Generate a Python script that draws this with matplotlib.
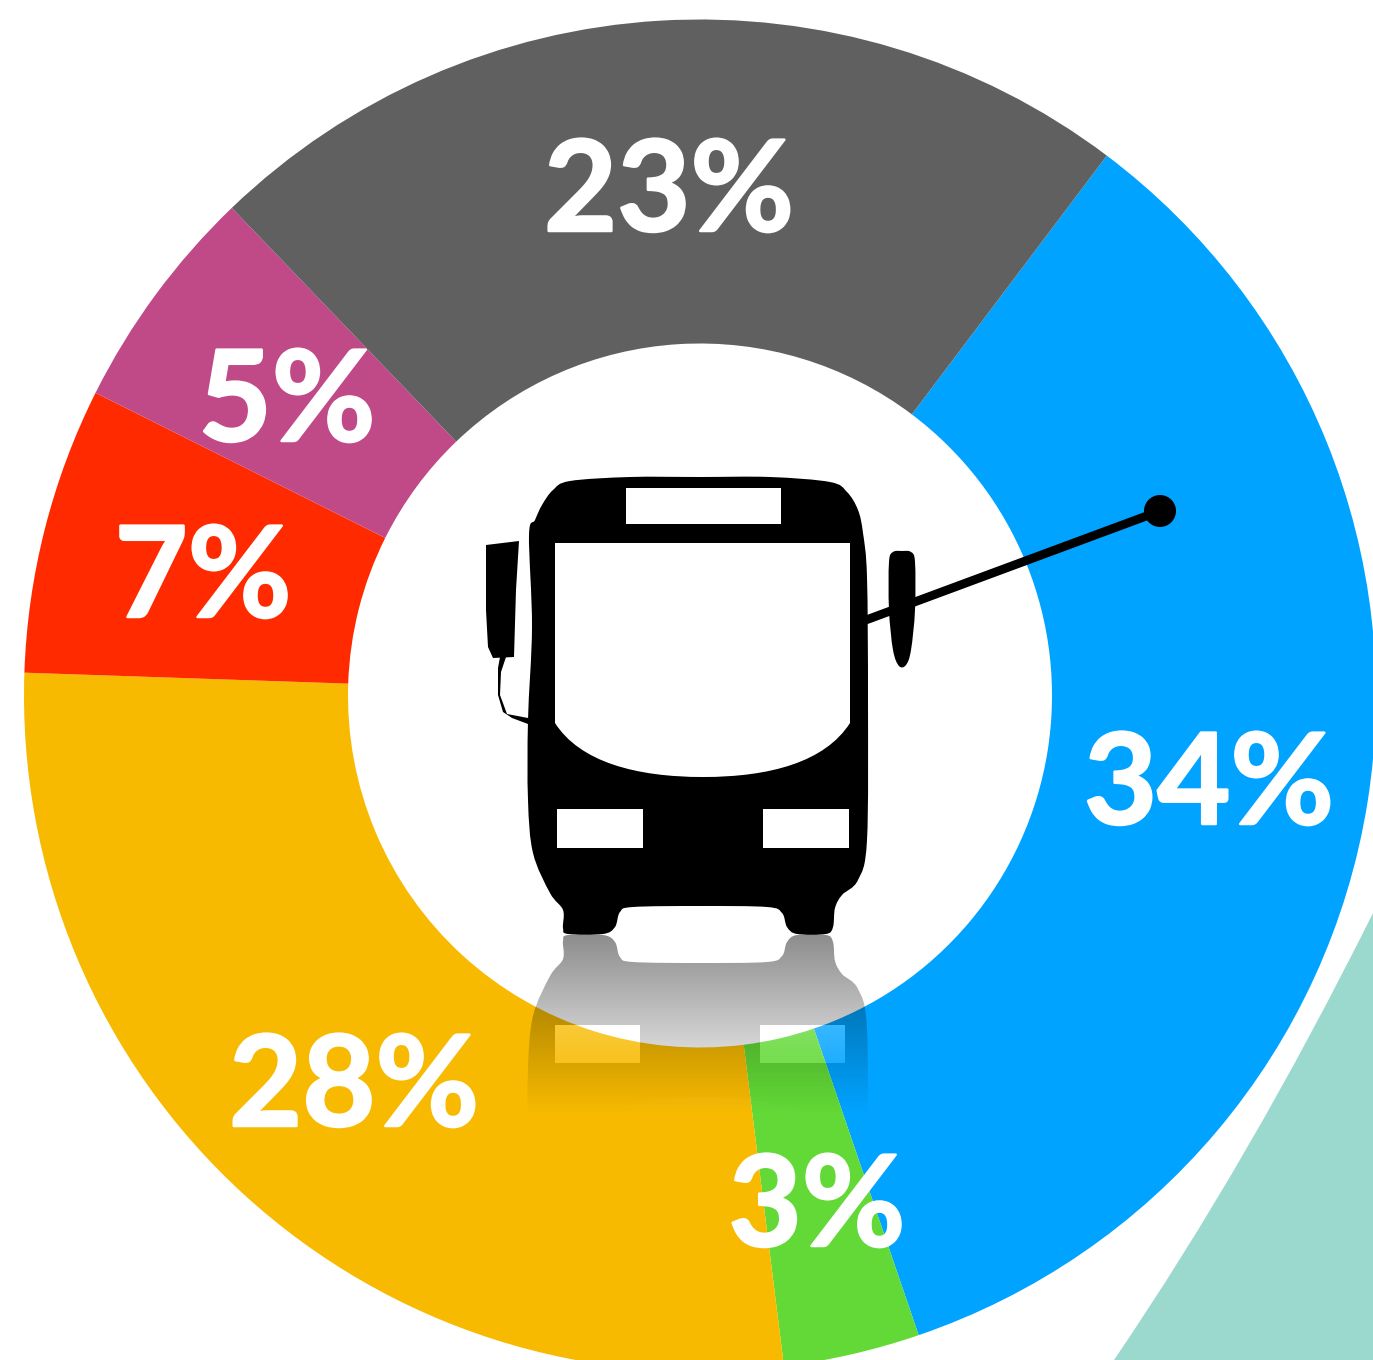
import numpy as np
import matplotlib
matplotlib.use("Agg")
import matplotlib.pyplot as plt
import matplotlib.patheffects as pe
from matplotlib.path import Path
from matplotlib.patches import PathPatch, Circle, Rectangle

# wedge sizes, printed labels are rounded
shares = [34.48, 3.26, 27.52, 6.85, 5.435, 22.455]
labels = ["34%", "3%", "28%", "7%", "5%", "23%"]
colors = ["#00A3FF", "#62D936", "#F7BA00", "#FF2A00", "#C04987", "#606060"]

plt.rcParams['font.family'] = ['Lato', 'DejaVu Sans']


def smooth(points):
    # closed catmull-rom curve through the points
    pts = np.array(points, dtype=float)
    n = len(pts)
    verts = [pts[0]]
    codes = [Path.MOVETO]
    for i in range(n):
        p0, p1, p2, p3 = pts[i - 1], pts[i], pts[(i + 1) % n], pts[(i + 2) % n]
        verts += [p1 + (p2 - p0) / 6, p2 - (p3 - p1) / 6, p2]
        codes += [Path.CURVE4, Path.CURVE4, Path.CURVE4]
    return Path(verts, codes)


def windshield():
    verts = [(555, 543), (850, 543), (850, 723),
             (825, 762), (770, 777), (703, 777),
             (636, 777), (580, 762), (555, 723), (555, 543)]
    codes = [Path.MOVETO, Path.LINETO, Path.LINETO] + [Path.CURVE4] * 6 + [Path.CLOSEPOLY]
    return Path(verts, codes)


def hole(x, y, w, h):
    # runs against the mirrored body outline so that it stays empty when filled
    return Path([(x, y), (x + w, y), (x + w, y + h), (x, y + h), (x, y)],
                [Path.MOVETO, Path.LINETO, Path.LINETO, Path.LINETO, Path.CLOSEPOLY])


def mirrored(path, axis_sum):
    return Path(path.vertices * np.array([1, -1]) + np.array([0, axis_sum]), path.codes)


body_pts = [(700, 477), (770, 477), (830, 482), (847, 492), (858, 510), (863, 533), (867, 577), (868, 700),
            (867, 840), (858, 880), (842, 895), (835, 908), (833, 927), (826, 934), (797, 934), (787, 927),
            (782, 913), (767, 907), (700, 906), (633, 907), (620, 912), (615, 927), (603, 934), (568, 934),
            (563, 928), (563, 910), (550, 893), (533, 853), (528, 800), (528, 720), (532, 627), (529, 535),
            (535, 520), (542, 505), (553, 490), (570, 481), (630, 477)]
body = smooth(body_pts)

lamp_boxes = [(557, 809, 86, 39), (763, 809, 86, 39)]
ref_lamps = [(555, 1025, 85, 38), (760, 1025, 85, 38)]

fig = plt.figure(figsize=(13.73, 13.6), dpi=100)
ax = fig.add_axes([0, 0, 1, 1])

# teal shape in the corner
teal = Path([(1373, 913), (1250, 1160), (1114, 1360), (1373, 1360), (1373, 913)],
            [Path.MOVETO, Path.CURVE3, Path.CURVE3, Path.LINETO, Path.CLOSEPOLY])
ax.add_patch(PathPatch(teal, fc="#9BD9CF", ec="none", zorder=0))

ax.pie(shares, colors=colors, center=(700, 695.5), radius=676, startangle=-53, counterclock=True,
       wedgeprops=dict(width=324, linewidth=0), frame=True)

# reflection under the bus
fade = np.zeros((256, 1, 4))
fade[:, 0, 3] = np.linspace(0.47, 0, 256) ** 1.05
fade_w = fade.copy()
fade_w[:, :, :3] = 1
fade_extent = (500, 900, 1115, 935)

ref_path = Path.make_compound_path(mirrored(body, 1869), *[hole(*b) for b in ref_lamps])
ref_body = PathPatch(ref_path, fc="none", ec="none")
ax.add_patch(ref_body)
im = ax.imshow(fade, extent=fade_extent, aspect='auto', zorder=3)
im.set_clip_path(ref_body)

for x, y, w, h in ref_lamps:
    box = Rectangle((x, y), w, h, fc="none", ec="none")
    ax.add_patch(box)
    lamp_im = ax.imshow(fade_w, extent=fade_extent, aspect='auto', zorder=3.1)
    lamp_im.set_clip_path(box)
ref_shield = PathPatch(mirrored(windshield(), 1874), fc="none", ec="none")
ax.add_patch(ref_shield)
shield_im = ax.imshow(fade_w, extent=fade_extent, aspect='auto', zorder=3.1)
shield_im.set_clip_path(ref_shield)

# the bus
ax.plot([866, 1160], [620, 511], color="black", lw=6.3, solid_capstyle="butt", zorder=4)
ax.add_patch(Circle((1160, 511), 16, fc="black", ec="none", zorder=4))
ax.add_patch(PathPatch(body, fc="black", ec="none", zorder=5))
ax.add_patch(Rectangle((626, 488), 155, 36, fc="white", ec="none", zorder=6))
ax.add_patch(PathPatch(windshield(), fc="white", ec="none", zorder=6))
for x, y, w, h in lamp_boxes:
    ax.add_patch(Rectangle((x, y), w, h, fc="white", ec="none", zorder=6))

# right mirror
ax.add_patch(PathPatch(smooth([(902, 551), (911, 552), (915, 562), (915, 610), (911, 650), (906, 665),
                               (899, 666), (893, 650), (889, 610), (889, 562), (893, 552)]),
                       fc="black", ec="none", zorder=6))
# left mirror
left_mirror = Path([(486, 545), (519, 541), (516, 590), (514, 657), (493, 658),
                    (488, 647), (486, 610), (486, 545)],
                   [Path.MOVETO, Path.LINETO, Path.LINETO, Path.LINETO, Path.LINETO,
                    Path.LINETO, Path.LINETO, Path.CLOSEPOLY])
ax.add_patch(PathPatch(left_mirror, fc="black", ec="none", zorder=6))
# thin outline of the lower mirror
crescent = Path([(506, 657), (501, 672), (500, 695), (507, 714), (528, 718), (528, 724), (512, 718),
                 (503, 712), (498, 695), (498, 668), (500, 657), (506, 657)],
                [Path.MOVETO] + [Path.LINETO] * 10 + [Path.CLOSEPOLY])
ax.add_patch(PathPatch(crescent, fc="black", ec="none", zorder=6))

# percent labels
label_xy = [(1209, 824), (817, 1246), (354, 1126), (203, 617), (287, 441), (669, 231)]
for (x, y), lab in zip(label_xy, labels):
    ax.text(x, y, lab, color="white", fontsize=91, fontweight="bold", ha="center", va="baseline", zorder=8,
            path_effects=[pe.withStroke(linewidth=1.8, foreground="white")])

ax.set_xlim(0, 1373)
ax.set_ylim(1360, 0)
ax.set_aspect('auto')
ax.axis('off')
fig.savefig("out.png", dpi=100)
